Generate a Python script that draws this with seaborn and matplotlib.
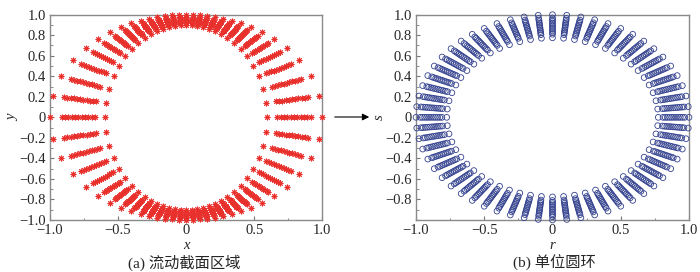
import numpy as np
import pandas as pd
import matplotlib
matplotlib.use("Agg")
import matplotlib.pyplot as plt
import seaborn as sns

sns.set_style("ticks")
plt.rcParams["font.family"] = ["Liberation Serif", "Noto Sans CJK SC"]
plt.rcParams["axes.unicode_minus"] = True

####data (first quadrant, mirrored for the rest)####
# (a) spokes: polar angle of outer end (on unit circle) and of inner end (on inner ellipse)
left_outer_deg = [0, 12.2, 23.5, 33.7, 42.4, 49.8, 56.1, 61.6, 66.3, 70.5, 74.3, 77.7, 81.0, 84.1, 87.1, 90]
left_inner_deg = [0, 13.6, 26.1, 36.8, 45.7, 53.0, 59.1, 64.2, 68.6, 72.5, 75.9, 79.0, 82.0, 84.7, 87.4, 90]
inner_a, inner_b = 0.595, 0.90
left_frac = [0, 0.185, 0.246, 0.306, 0.367, 0.427, 0.488, 0.548, 0.609, 0.669, 0.730, 0.79, 1.0]

# (b) unit annulus
right_deg = [0, 6, 12, 18, 24, 30, 36, 42, 48, 54, 60, 66, 72, 78, 84, 90]
right_rin, right_rout = 0.775, 1.0
right_frac = [0, 0.155, 0.226, 0.296, 0.367, 0.437, 0.508, 0.578, 0.649, 0.719, 0.79, 0.86, 1.0]

yticks = [-1.0, -0.8, -0.6, -0.4, -0.2, 0, 0.2, 0.4, 0.6, 0.8, 1.0]
xticks = [-1.0, -0.5, 0, 0.5, 1.0]


def mirror(q):
    q = list(q)
    return q + [180 - v for v in reversed(q[1:-1])] + [180 + v for v in q] + [360 - v for v in reversed(q[1:-1])]


def spokes(inner_deg, outer_deg, rin_fun, rout, frac):
    rows = []
    for ai, ao in zip(mirror(inner_deg), mirror(outer_deg)):
        ti, to = np.radians(ai), np.radians(ao)
        ri = rin_fun(ti)
        x0, y0 = ri * np.cos(ti), ri * np.sin(ti)
        x1, y1 = rout * np.cos(to), rout * np.sin(to)
        for f in frac:
            rows.append((x0 + f * (x1 - x0), y0 + f * (y1 - y0)))
    return pd.DataFrame(rows, columns=["x", "y"])


def ellipse_r(t):
    return inner_a * inner_b / np.sqrt((inner_b * np.cos(t)) ** 2 + (inner_a * np.sin(t)) ** 2)


df_a = spokes(left_inner_deg, left_outer_deg, ellipse_r, 1.0, left_frac)
df_b = spokes(right_deg, right_deg, lambda t: right_rin, right_rout, right_frac)

fig = plt.figure(figsize=(7, 2.72), dpi=100)
ax1 = fig.add_axes([50 / 700, 1 - 220 / 272, 272.3 / 700, 205.3 / 272])
ax2 = fig.add_axes([416 / 700, 1 - 220 / 272, 273 / 700, 205.3 / 272])

sns.scatterplot(data=df_a, x="x", y="y", ax=ax1, marker=(8, 2, 0), color="#e8302c",
                s=13, linewidth=0.7, clip_on=False, legend=False, zorder=3)
sns.scatterplot(data=df_b, x="x", y="y", ax=ax2, marker="o", facecolors="none",
                edgecolor="#34428f", s=17, linewidth=0.6, clip_on=False, legend=False, zorder=3)


def fmt(v):
    return "0" if v == 0 else "\u2212%.1f" % abs(v) if v < 0 else "%.1f" % v


for ax, xl, yl in [(ax1, "x", "y"), (ax2, "r", "s")]:
    ax.set_xlim(-1, 1)
    ax.set_ylim(-1, 1)
    ax.set_xticks(xticks)
    ax.set_xticklabels([fmt(v) for v in xticks])
    ax.set_yticks(yticks)
    ax.set_xticks(np.arange(-1, 1.01, 0.25), minor=True)
    ax.set_yticks(np.arange(-1, 1.01, 0.1), minor=True)
    ax.tick_params(which="both", direction="in", top=False, right=False, labelsize=10.5,
                   color="#777777", pad=3)
    ax.tick_params(which="major", length=3, width=0.8)
    ax.tick_params(which="minor", length=1.8, width=0.6)
    for sp in ax.spines.values():
        sp.set_color("#8a8a8a")
        sp.set_linewidth(1.0)
    ax.set_xlabel(xl, fontstyle="italic", fontsize=10.5, labelpad=1)
    ax.set_ylabel(yl, fontstyle="italic", fontsize=10.5, labelpad=0)

ax1.set_yticklabels([fmt(v) for v in yticks])
ax2.set_yticklabels(["" if v == -1.0 else fmt(v) for v in yticks])

fig.text(184 / 700, 1 - 263 / 272, "(a) 流动截面区域", ha="center", va="center", fontsize=11)
fig.text(554 / 700, 1 - 263 / 272, "(b) 单位圆环", ha="center", va="center", fontsize=11)

fig.add_artist(matplotlib.patches.FancyArrowPatch((332 / 700, 1 - 117 / 272), (372 / 700, 1 - 117 / 272),
                                                  transform=fig.transFigure, arrowstyle="-|>",
                                                  mutation_scale=10, color="k", lw=0.8))

plt.savefig("out.png", dpi=100)
